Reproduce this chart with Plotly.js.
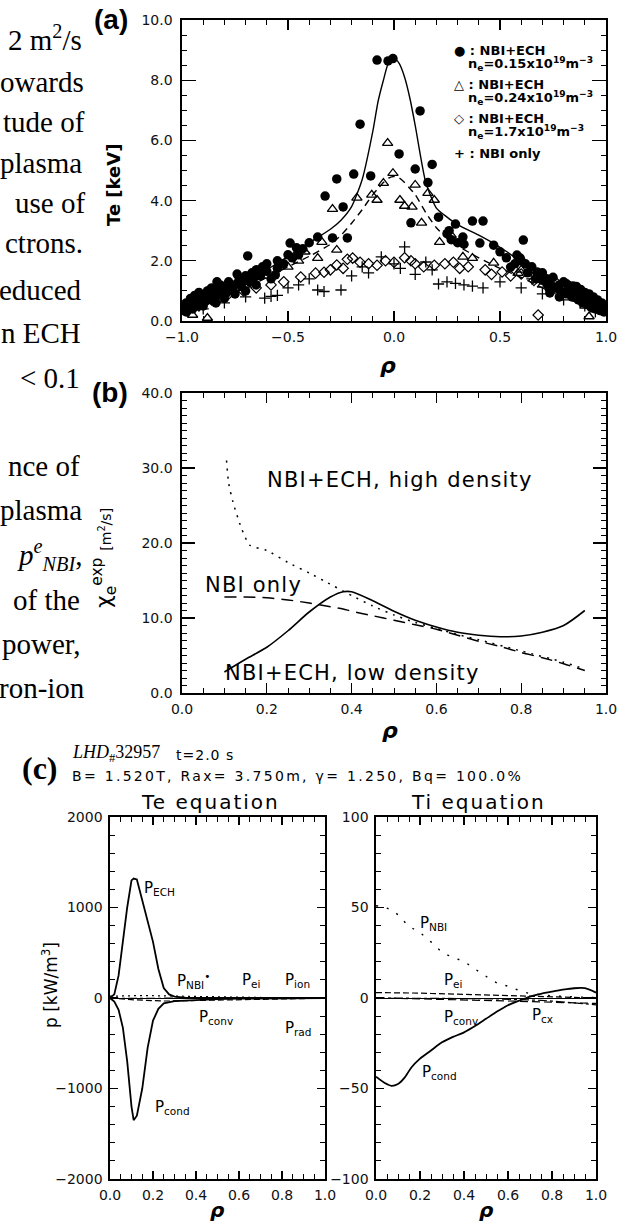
<!DOCTYPE html>
<html>
<head>
<meta charset="utf-8">
<script src="https://cdn.plot.ly/plotly-3.0.1.min.js"></script>
<style>
  html, body { margin: 0; padding: 0; background: #fff; }
  #fig { width: 627px; height: 1225px; }
</style>
</head>
<body>
<div id="fig"></div>
<script>
// ---------- (a) electron temperature profiles ----------
// NBI+ECH, n_e = 0.15e19 m^-3 (filled circles)
const circlePts = [
  [-0.08,8.67],[-0.028,8.64],[-0.005,8.72],[0.123,6.98],[-0.16,6.54],[0.024,5.55],[0.18,5.2],[0.10,5.05],
  [-0.27,4.72],[-0.19,4.88],[-0.11,4.82],[0.16,4.6],[-0.325,4.15],[-0.24,3.79],[0.21,3.45],[0.08,3.26],
  [0.37,3.32],[0.42,3.32],[0.29,3.22],[-0.22,2.76],[-0.29,2.76],[-0.36,2.79],[-0.49,2.59],[-0.46,2.43],
  [-0.69,2.16],[0.325,2.79],[0.405,2.59],[0.47,2.52],[0.61,2.69],[0.58,2.19],[0.595,2.09],[-0.74,1.56],
  [-0.64,1.56],[-0.56,1.53],[0.55,1.79],[0.675,1.63],[0.78,1.2],[0.845,1.16],[0.735,0.93],[-0.835,1.3],
  [-0.87,1.03],[-0.55,2.0],[-0.5,2.2],[-0.43,2.4],[-0.4,2.6],[-0.6,1.9],[-0.65,1.7],[-0.7,1.5],
  [0.25,2.9],[0.27,2.7],[0.3,2.6],[0.26,3.0],[0.33,2.55],[0.5,2.3],[0.53,2.1],[0.62,1.9],[0.68,1.55],[0.72,1.4],
  [-1.0,0.35],[-0.99,0.5],[-0.98,0.3],[-0.97,0.45],[-0.96,0.55],[-0.95,0.4],[-0.94,0.6],[-0.93,0.5],
  [-0.92,0.7],[-0.91,0.55],[-0.9,0.8],[-0.89,0.65],[-0.88,0.75],[-0.87,0.9],[-0.86,0.7],[-0.85,0.95],
  [-0.84,0.85],[-0.83,1.0],[-0.82,0.9],[-0.8,1.1],[-0.79,0.95],[-0.77,1.2],[-0.76,1.05],[-0.74,1.25],
  [-0.72,1.15],[-0.7,1.35],[-0.68,1.3],[-0.66,1.45],[-0.63,1.5],[-0.6,1.65],
  [-0.98,0.6],[-0.96,0.75],[-0.94,0.85],[-0.92,0.95],[-0.9,0.5],[-0.88,1.0],[-0.86,1.1],[-0.84,0.6],
  [-0.82,1.2],[-0.8,0.75],[-0.78,1.3],[-0.75,0.9],[-0.73,1.4],[-0.7,1.0],[-0.67,1.6],[-0.65,1.2],
  [-0.62,1.8],[-0.58,1.4],[-0.55,1.75],[-0.52,1.9],[-0.48,2.1],[-0.45,2.2],
  [0.7,1.35],[0.72,1.25],[0.74,1.2],[0.76,1.1],[0.78,1.05],[0.8,0.95],[0.82,0.9],[0.84,0.8],
  [0.86,0.85],[0.87,0.7],[0.88,0.75],[0.89,0.6],[0.9,0.7],[0.91,0.55],[0.92,0.65],[0.93,0.45],
  [0.94,0.55],[0.95,0.4],[0.96,0.5],[0.97,0.35],[0.98,0.45],[0.99,0.3],[1.0,0.35],
  [0.98,0.6],[0.96,0.7],[0.94,0.8],[0.92,0.9],[0.9,0.95],[0.88,1.05],[0.86,1.15],[0.84,1.0],
  [0.82,1.2],[0.8,1.3],[0.78,0.8],[0.75,1.45],[0.73,1.1],[0.7,1.6],[0.67,1.4],[0.65,1.8],
  [0.63,1.6],[0.6,2.0],[0.57,1.9]
];
// NBI+ECH, n_e = 0.24e19 m^-3 (open triangles)
const trianglePts = [
  [-0.03,5.91],[-0.005,4.91],[-0.05,4.58],[0.10,4.52],[0.16,4.25],[0.19,4.02],[-0.175,4.09],[-0.105,4.19],
  [-0.08,4.02],[0.028,4.02],[0.05,3.82],[0.085,3.79],[-0.29,3.72],[0.13,3.26],[0.215,2.62],[-0.34,2.62],
  [-0.27,2.36],[-0.36,2.09],[0.37,2.09],[0.325,2.13],[0.47,1.93],[0.585,1.59],[-0.5,1.8],[-0.6,1.5],
  [-0.7,1.2],[-0.8,0.9],[-0.88,0.1],[-0.95,0.2],[0.7,1.2],[0.8,0.9],[0.9,0.5],[0.92,0.15],
  [0.6,1.7],[-0.45,2.0],[0.27,2.85],[-0.42,2.3]
];
// NBI+ECH, n_e = 1.7e19 m^-3 (open diamonds)
const diamondPts = [
  [-0.92,0.5],[-0.86,0.7],[-0.82,0.8],[-0.78,0.9],[-0.71,1.0],[-0.65,1.1],[-0.58,1.2],[-0.52,1.3],
  [-0.44,1.46],[-0.37,1.59],[-0.33,1.62],[-0.3,1.7],[-0.27,1.86],[-0.24,1.75],[-0.22,2.05],[-0.195,2.09],
  [-0.16,1.95],[-0.12,1.9],[-0.08,1.85],[-0.04,2.0],[0.0,1.95],[0.05,2.1],[0.08,2.0],[0.10,1.9],
  [0.14,1.8],[0.19,1.85],[0.24,1.9],[0.28,1.95],[0.31,1.75],[0.35,1.8],[0.43,1.7],[0.46,1.55],
  [0.51,1.63],[0.55,1.5],[0.6,1.56],[0.66,1.35],[0.76,1.3],[0.82,1.2],[0.88,1.0],[0.93,0.8],
  [0.97,0.6],[0.68,0.2]
];
// NBI only (plus signs)
const plusPts = [
  [0.05,2.46],[-0.06,2.13],[0.0,1.9],[0.03,1.75],[0.15,1.96],[-0.12,1.6],[-0.2,1.5],[0.1,1.55],
  [-0.36,1.03],[-0.33,0.98],[-0.25,1.03],[-0.61,0.76],[-0.58,0.82],[-0.55,0.85],[0.21,1.23],[0.25,1.3],
  [0.29,1.25],[0.33,1.2],[0.37,1.16],[0.42,1.1],[-0.45,1.2],[-0.4,1.4],[-0.5,1.1],[-0.7,0.8],
  [-0.8,0.6],[-0.9,0.4],[0.5,1.3],[0.6,1.1],[0.65,1.4],[0.7,0.9],[0.8,0.7],[0.9,0.5],
  [0.95,0.3],[-0.15,1.8],[0.18,1.7]
];
// fitted profiles
const rhoProf = [-1,-0.9,-0.8,-0.7,-0.6,-0.5,-0.4,-0.3,-0.25,-0.2,-0.15,-0.1,-0.075,-0.05,-0.025,0,
                 0.025,0.05,0.075,0.1,0.15,0.2,0.25,0.3,0.4,0.5,0.6,0.7,0.8,0.9,1];
const teFitLow = [0.25,0.55,0.95,1.3,1.7,2.15,2.6,3.05,3.35,3.8,4.7,6.3,7.3,8.0,8.6,8.75,
                  8.55,8.1,7.4,6.5,4.6,3.75,3.45,3.2,2.85,2.45,1.95,1.3,0.85,0.5,0.25];
const teFitMid = [0.25,0.5,0.8,1.1,1.45,1.8,2.15,2.55,2.85,3.25,3.7,4.2,4.4,4.6,4.75,4.8,
                  4.75,4.6,4.4,4.2,3.6,3.1,2.75,2.5,2.1,1.75,1.45,1.1,0.8,0.5,0.25];
const teTickVals = [0,2,4,6,8,10];
const teTickText = ['0.0','2.0','4.0','6.0','8.0','10.0'];
const rhoSymVals = [-1,-0.5,0,0.5,1];
const rhoSymText = ['\u22121.0','\u22120.5','0.0','0.5','1.0'];

// ---------- (b) experimental electron heat diffusivity ----------
const rhoChi  = [0.1,0.15,0.2,0.25,0.3,0.35,0.38,0.4,0.45,0.5,0.55,0.6,0.65,0.7,0.75,0.8,0.85,0.9,0.95];
const chiLowDens = [2.8,4.5,6.1,8.3,10.8,12.8,13.5,13.5,12.3,10.9,9.7,8.8,8.1,7.7,7.5,7.6,8.1,9.0,11.0];
const chiNbiOnly = [12.8,12.8,12.7,12.4,12.0,11.5,11.2,10.9,10.3,9.7,9.1,8.5,7.7,6.9,6.2,5.4,4.7,3.9,3.0];
const rhoChiHigh = [0.105,0.11,0.12,0.14,0.16,0.2,0.25,0.3,0.34,0.4,0.45,0.5,0.55,0.6,0.65,0.7,0.8,0.9,0.95];
const chiHighDens = [31,28,25.5,22,19.7,19,17.4,16,14.8,13.0,11.6,10.4,9.4,8.6,7.8,7.1,5.6,4.1,3.2];
const chiTickVals = [0,10,20,30,40];
const chiTickText = ['0.0','10.0','20.0','30.0','40.0'];
const rhoTickVals = [0,0.2,0.4,0.6,0.8,1.0];
const rhoTickText = ['0.0','0.2','0.4','0.6','0.8','1.0'];

// ---------- (c) power balance, LHD #32957 ----------
const rhoPe   = [0,0.02,0.04,0.06,0.08,0.1,0.11,0.125,0.15,0.175,0.2,0.225,0.25,0.275,0.3,0.35,0.4,0.5,0.6,0.7,0.8,0.9,1.0];
const pEch    = [0,40,250,650,1000,1300,1320,1310,1080,870,620,320,110,40,15,5,0,0,0,0,0,0,0];
const pCondE  = [0,-40,-130,-330,-700,-1200,-1350,-1300,-1000,-550,-250,-120,-60,-45,-35,-28,-20,-12,-8,-6,-4,-2,0];
const pNbiE   = [20,22,24,25,26,27,27,27,27,26,25,24,22,20,18,15,12,8,5,3,2,1,0];
const pConvE  = [0,-2,-5,-10,-15,-18,-20,-22,-25,-28,-30,-32,-33,-33,-32,-30,-27,-22,-16,-11,-7,-4,-2];
const pEiE    = [-3,-3,-3,-3,-4,-4,-4,-4,-4,-4,-4,-4,-4,-4,-4,-4,-4,-3,-3,-2,-2,-1,-1];
const rhoPi   = [0,0.04,0.07,0.1,0.13,0.16,0.2,0.25,0.3,0.35,0.4,0.45,0.5,0.55,0.6,0.65,0.7,0.75,0.8,0.85,0.9,0.95,1.0];
const pCondI  = [-43.5,-47,-48.5,-47.5,-44,-38.5,-33.5,-29,-24.5,-21.5,-19,-15.5,-11.5,-7.5,-4,-1.5,0.8,2.3,3.5,4.6,5.4,5.4,3];
const pNbiI   = [51,50,48.5,46,42,39,36,31,25.5,22.5,20,16,12,8.3,6.5,4.2,2.5,1.8,1.2,0.9,0.6,0.4,0.3];
const pEiI    = [3,3,3,3,2.9,2.8,2.7,2.5,2.3,2.1,1.9,1.7,1.5,1.3,1.1,0.9,0.7,0.6,0.5,0.4,0.3,0.2,0.1];
const pConvI  = [0,0,-0.1,-0.2,-0.3,-0.4,-0.5,-0.6,-0.7,-0.8,-0.9,-1.0,-1.2,-1.4,-1.6,-1.8,-2.0,-2.2,-2.4,-2.6,-2.8,-3.0,-3.0];
const pCxI    = [0,0,0,0,0,0,0,-0.1,-0.1,-0.2,-0.2,-0.3,-0.4,-0.5,-0.6,-0.8,-1.0,-1.3,-1.7,-2.1,-2.6,-3.2,-3.8];
const peTickVals = [-2000,-1000,0,1000,2000];
const peTickText = ['\u22122000','\u22121000','0','1000','2000'];
const piTickVals = [-100,-50,0,50,100];
const piTickText = ['\u2212100','\u221250','0','50','100'];

// surrounding page text (right ends of the text column)
const bodyLines = [
  '2 m<sup>2</sup>/s','owards','tude of','plasma','use of','ctrons.','educed','n ECH','&lt; 0.1',
  'nce of','plasma','<i>p</i><sup><i>e</i></sup><sub><i>NBI</i></sub>,','of the','power,','ron-ion'
];

// ---------- drawing ----------
const W = 627, H = 1225;
const fx = x => x / W;
const fy = y => 1 - y / H;
const BLACK = '#000';

function axis(extra) {
  return Object.assign({
    showline: true, linecolor: BLACK, linewidth: 1.6, mirror: 'allticks',
    ticks: 'inside', ticklen: 11, tickwidth: 1.2, tickcolor: BLACK,
    showgrid: false, zeroline: false, fixedrange: true, tickmode: 'array',
    ticklabelstandoff: 3,
    tickfont: { family: 'DejaVu Sans', size: 14, color: '#111' }
  }, extra);
}
function minor(d) {
  return { ticks: 'inside', ticklen: 5, tickwidth: 1, tickcolor: BLACK, tickmode: 'linear', tick0: 0, dtick: d, showgrid: false };
}
const xs = pts => pts.map(p => p[0]);
const ys = pts => pts.map(p => p[1]);

const traces = [
  // (a)
  { x: rhoProf, y: teFitLow, xaxis: 'x', yaxis: 'y', mode: 'lines',
    line: { color: BLACK, width: 1.4, shape: 'spline', smoothing: 0.6 } },
  { x: rhoProf, y: teFitMid, xaxis: 'x', yaxis: 'y', mode: 'lines',
    line: { color: BLACK, width: 1.4, dash: '7px,5px', shape: 'spline', smoothing: 0.6 } },
  { x: xs(diamondPts), y: ys(diamondPts), xaxis: 'x', yaxis: 'y', mode: 'markers',
    marker: { symbol: 'diamond-open', size: 8, color: BLACK, line: { width: 1.2 } } },
  { x: xs(plusPts), y: ys(plusPts), xaxis: 'x', yaxis: 'y', mode: 'markers',
    marker: { symbol: 'cross-thin-open', size: 8, color: BLACK, line: { width: 1.3, color: BLACK } } },
  { x: xs(trianglePts), y: ys(trianglePts), xaxis: 'x', yaxis: 'y', mode: 'markers',
    marker: { symbol: 'triangle-up-open', size: 9, color: BLACK, line: { width: 1.3 } } },
  { x: xs(circlePts), y: ys(circlePts), xaxis: 'x', yaxis: 'y', mode: 'markers',
    marker: { symbol: 'circle', size: 9.5, color: BLACK } },
  // (b)
  { x: rhoChi, y: chiLowDens, xaxis: 'x2', yaxis: 'y2', mode: 'lines',
    line: { color: BLACK, width: 1.6, shape: 'spline', smoothing: 0.8 } },
  { x: rhoChi, y: chiNbiOnly, xaxis: 'x2', yaxis: 'y2', mode: 'lines',
    line: { color: BLACK, width: 1.4, dash: '12px,7px', shape: 'spline', smoothing: 0.8 } },
  { x: rhoChiHigh, y: chiHighDens, xaxis: 'x2', yaxis: 'y2', mode: 'lines',
    line: { color: BLACK, width: 1.5, dash: '2px,6px', shape: 'spline', smoothing: 0.6 } },
  // (c) Te equation
  { x: rhoPe, y: pNbiE, xaxis: 'x3', yaxis: 'y3', mode: 'lines', line: { color: BLACK, width: 1.2, dash: '2px,4px' } },
  { x: rhoPe, y: pConvE, xaxis: 'x3', yaxis: 'y3', mode: 'lines', line: { color: BLACK, width: 1.2, dash: '6px,3px' } },
  { x: rhoPe, y: pEiE, xaxis: 'x3', yaxis: 'y3', mode: 'lines', line: { color: BLACK, width: 1.2, dash: 'dashdot' } },
  { x: rhoPe, y: pEch, xaxis: 'x3', yaxis: 'y3', mode: 'lines', line: { color: BLACK, width: 1.8 } },
  { x: rhoPe, y: pCondE, xaxis: 'x3', yaxis: 'y3', mode: 'lines', line: { color: BLACK, width: 1.8 } },
  // (c) Ti equation
  { x: rhoPi, y: pNbiI, xaxis: 'x4', yaxis: 'y4', mode: 'lines', line: { color: BLACK, width: 1.4, dash: '2px,9px', shape: 'spline' } },
  { x: rhoPi, y: pEiI, xaxis: 'x4', yaxis: 'y4', mode: 'lines', line: { color: BLACK, width: 1.2, dash: '6px,3px' } },
  { x: rhoPi, y: pConvI, xaxis: 'x4', yaxis: 'y4', mode: 'lines', line: { color: BLACK, width: 1.2, dash: '8px,4px' } },
  { x: rhoPi, y: pCxI, xaxis: 'x4', yaxis: 'y4', mode: 'lines', line: { color: BLACK, width: 1.2, dash: 'dashdot' } },
  { x: rhoPi, y: pCondI, xaxis: 'x4', yaxis: 'y4', mode: 'lines', line: { color: BLACK, width: 1.8, shape: 'spline', smoothing: 0.6 } }
];

function note(text, x, y, o) {
  o = o || {};
  return {
    text: text, xref: 'paper', yref: 'paper', x: fx(x), y: fy(y),
    xanchor: o.xa || 'center', yanchor: o.ya || 'middle', showarrow: false,
    textangle: o.angle || 0,
    font: { family: o.family || 'DejaVu Sans', size: o.size || 14, color: BLACK, weight: o.weight || 'normal', style: o.style || 'normal' }
  };
}
// wide, evenly tracked lettering of the plotting package
const tracked = (t, px) => '<span style="letter-spacing:' + px + 'px">' + t + '</span>';

const serif = 'Liberation Serif';
const bodyY = [38, 82, 122, 163, 203, 243, 290, 333, 378, 466, 510, 555, 600, 644, 688];
const bodyRight = [84, 86, 87, 84, 87, 85, 84, 83, 82, 82, 84, 84, 82, 83, 87];

const annotations = [];
bodyLines.forEach((t, i) => annotations.push(note(t, bodyRight[i], bodyY[i], { xa: 'right', family: serif, size: 29 })));

annotations.push(
  // panel letters
  note('(a)', 111, 20, { size: 28, weight: 'bold', family: 'Liberation Sans' }),
  note('(b)', 110, 392, { size: 28, weight: 'bold', family: 'Liberation Sans' }),
  note('(c)', 40, 768, { size: 32, weight: 'bold', family: serif }),
  // (a) legend
  note('\u25CF : NBI+ECH', 452, 50, { xa: 'left', size: 13, weight: 'bold' }),
  note('n<sub>e</sub>=0.15x10<sup>19</sup>m<sup>\u22123</sup>', 466, 64, { xa: 'left', size: 13, weight: 'bold' }),
  note('\u25B3 : NBI+ECH', 452, 84, { xa: 'left', size: 13, weight: 'bold' }),
  note('n<sub>e</sub>=0.24x10<sup>19</sup>m<sup>\u22123</sup>', 466, 98, { xa: 'left', size: 13, weight: 'bold' }),
  note('\u25C7 : NBI+ECH', 452, 118, { xa: 'left', size: 13, weight: 'bold' }),
  note('n<sub>e</sub>=1.7x10<sup>19</sup>m<sup>\u22123</sup>', 466, 132, { xa: 'left', size: 13, weight: 'bold' }),
  note('+ : NBI only', 452, 154, { xa: 'left', size: 13, weight: 'bold' }),
  // axis titles
  note('Te [keV]', 113, 185, { angle: -90, size: 18, weight: 'bold' }),
  note('\u03C7<sub>e</sub><sup>exp</sup> <span style="font-size:14px">[m<sup>2</sup>/s]</span>', 104, 558, { angle: -90, size: 22 }),
  note('p [kW/m<sup>3</sup>]', 50, 985, { angle: -90, size: 17 }),
  note('<b><i>\u03C1</i></b>', 388, 365, { size: 22 }),
  note('<b><i>\u03C1</i></b>', 390, 730, { size: 22 }),
  note('<b><i>\u03C1</i></b>', 217, 1210, { size: 20 }),
  note('<b><i>\u03C1</i></b>', 486, 1210, { size: 20 }),
  // (b) curve labels
  note(tracked('NBI+ECH, high density', 1.2), 265, 480, { xa: 'left', size: 21 }),
  note(tracked('NBI only', 1.2), 203, 585, { xa: 'left', size: 21 }),
  note(tracked('NBI+ECH, low density', 1.2), 223, 673, { xa: 'left', size: 21 }),
  // (c) header
  note('<i>LHD</i><sub>#</sub>32957', 70, 753, { xa: 'left', size: 18, family: serif }),
  note(tracked('t=2.0 s', 1), 174, 755, { xa: 'left', size: 14 }),
  note(tracked('B= 1.520T, Rax= 3.750m, \u03B3= 1.250, Bq= 100.0%', 2.3), 70, 776, { xa: 'left', size: 14 }),
  note(tracked('Te equation', 2), 210, 802, { size: 20 }),
  note(tracked('Ti equation', 2), 479, 802, { size: 20 }),
  // Te equation term labels
  note('P<sub>ECH</sub>', 142, 888, { xa: 'left', size: 15 }),
  note('P<sub>NBI</sub><sup>\u2022</sup>', 175, 980, { xa: 'left', size: 15 }),
  note('P<sub>ei</sub>', 240, 980, { xa: 'left', size: 15 }),
  note('P<sub>ion</sub>', 283, 980, { xa: 'left', size: 15 }),
  note('P<sub>conv</sub>', 197, 1017, { xa: 'left', size: 15 }),
  note('P<sub>rad</sub>', 283, 1028, { xa: 'left', size: 15 }),
  note('P<sub>cond</sub>', 153, 1107, { xa: 'left', size: 15 }),
  // Ti equation term labels
  note('P<sub>NBI</sub>', 418, 923, { xa: 'left', size: 15 }),
  note('P<sub>ei</sub>', 442, 980, { xa: 'left', size: 15 }),
  note('P<sub>conv</sub>', 442, 1017, { xa: 'left', size: 15 }),
  note('P<sub>cx</sub>', 530, 1015, { xa: 'left', size: 15 }),
  note('P<sub>cond</sub>', 420, 1072, { xa: 'left', size: 15 })
);

const layout = {
  width: W, height: H, autosize: false,
  margin: { l: 0, r: 0, t: 0, b: 0, pad: 0 },
  paper_bgcolor: '#fff', plot_bgcolor: '#fff',
  showlegend: false,
  font: { family: 'DejaVu Sans', color: BLACK },
  // (a)
  xaxis: axis({ domain: [fx(182), fx(606)], anchor: 'y', range: [-1, 1], tickvals: rhoSymVals, ticktext: rhoSymText, minor: minor(0.1), ticklen: 10 }),
  yaxis: axis({ domain: [fy(321), fy(20)], anchor: 'x', range: [0, 10], tickvals: teTickVals, ticktext: teTickText, minor: minor(0.5), ticklen: 14, ticklabelstandoff: 5 }),
  // (b)
  xaxis2: axis({ domain: [fx(182), fx(606)], anchor: 'y2', range: [0, 1], tickvals: rhoTickVals, ticktext: rhoTickText, minor: minor(0.05), ticklen: 10 }),
  yaxis2: axis({ domain: [fy(693), fy(393)], anchor: 'x2', range: [0, 40], tickvals: chiTickVals, ticktext: chiTickText, minor: minor(1), ticklen: 13, ticklabelstandoff: 5 }),
  // (c) left
  xaxis3: axis({ domain: [fx(110), fx(325)], anchor: 'y3', range: [0, 1], tickvals: rhoTickVals, ticktext: rhoTickText, minor: minor(0.05), ticklen: 8 }),
  yaxis3: axis({ domain: [fy(1179), fy(817)], anchor: 'x3', range: [-2000, 2000], tickvals: peTickVals, ticktext: peTickText, minor: minor(200), ticklen: 8,
                 zeroline: true, zerolinecolor: BLACK, zerolinewidth: 1 }),
  // (c) right
  xaxis4: axis({ domain: [fx(376), fx(596)], anchor: 'y4', range: [0, 1], tickvals: rhoTickVals, ticktext: rhoTickText, minor: minor(0.05), ticklen: 8 }),
  yaxis4: axis({ domain: [fy(1179), fy(817)], anchor: 'x4', range: [-100, 100], tickvals: piTickVals, ticktext: piTickText, minor: minor(10), ticklen: 8,
                 zeroline: true, zerolinecolor: BLACK, zerolinewidth: 1 }),
  annotations: annotations
};

Plotly.newPlot('fig', traces, layout, { staticPlot: true, displayModeBar: false });
</script>
</body>
</html>
